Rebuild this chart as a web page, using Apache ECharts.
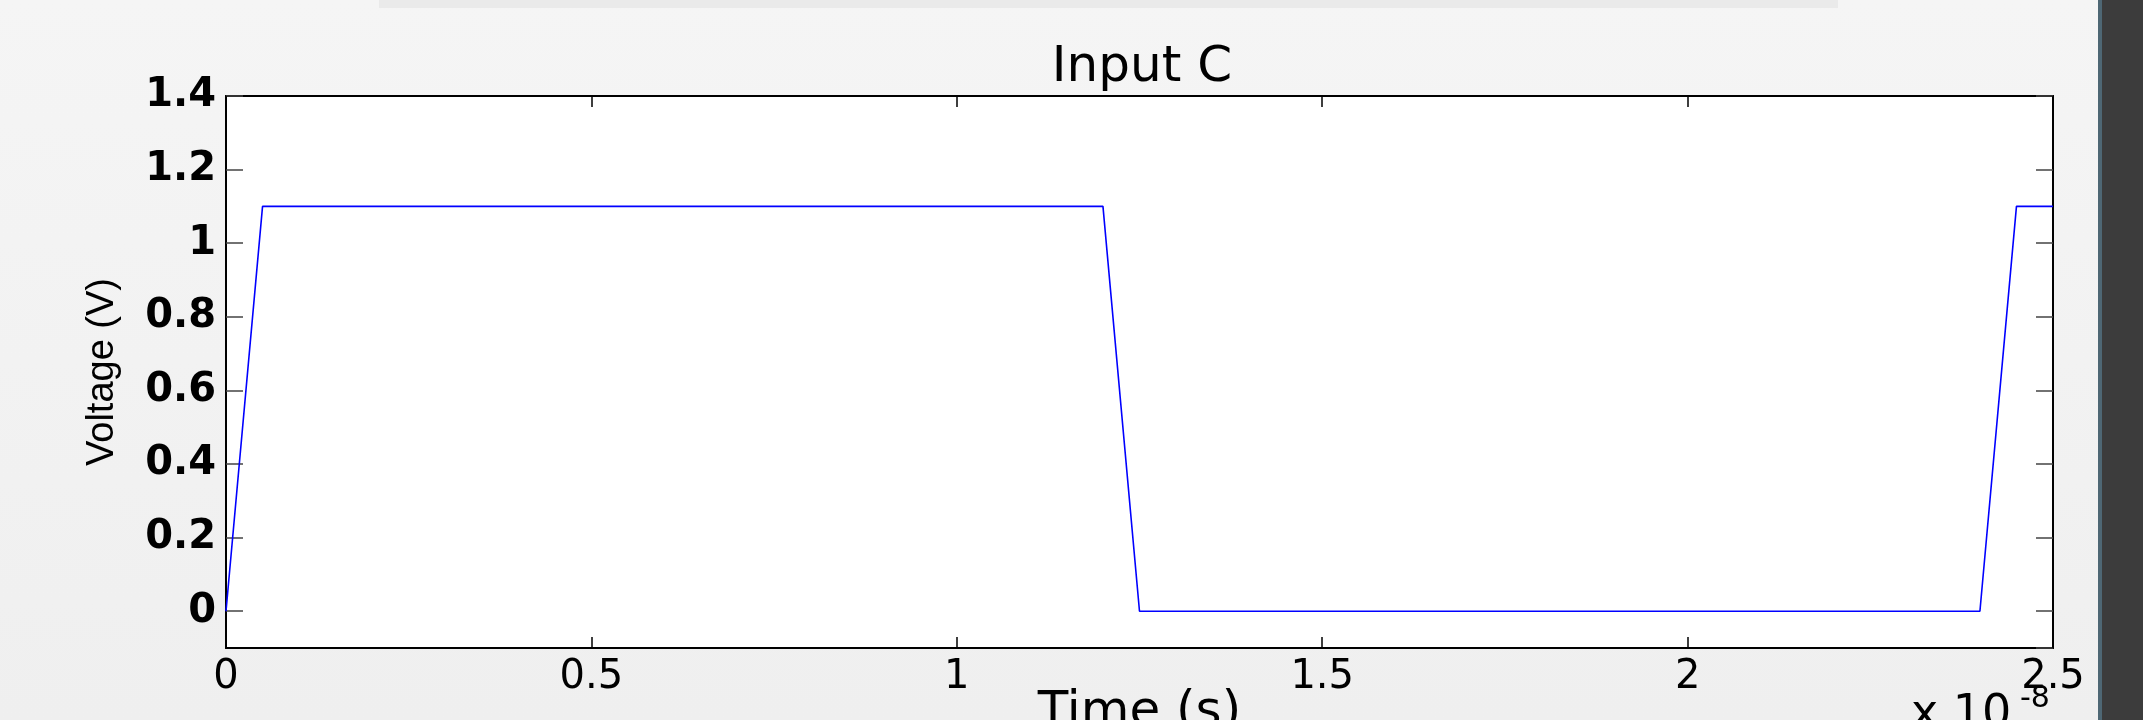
<!DOCTYPE html>
<html>
<head>
<meta charset="utf-8">
<script src="https://cdn.jsdelivr.net/npm/echarts@6/dist/echarts.min.js"></script>
<style>
  html, body { margin: 0; padding: 0; }
  #chart { width: 2143px; height: 720px; }
</style>
</head>
<body>
<div id="chart"></div>
<script>
// time in units of 1e-8 s, voltage in V (corner points of the waveform)
var timeE8 = [0, 0.05, 1.2, 1.25, 2.4, 2.45, 2.5]
var voltage = [0, 1.1, 1.1, 0, 0, 1.1, 1.1]

var titleText = 'Input C'
var xName = 'Time (s)'
var yName = 'Voltage (V)'

var points = timeE8.map(function (t, i) { return [t, voltage[i]] })

var chart = echarts.init(document.getElementById('chart'))

var tickX = { show: true, inside: true, length: 11, lineStyle: { color: '#000', width: 1.5 } }
var tickY = { show: true, inside: true, length: 17, lineStyle: { color: '#444', width: 1.5 } }
var axLine = { show: true, onZero: false, lineStyle: { color: '#000', width: 2 } }

chart.setOption({
    animation: false,
    backgroundColor: {
        type: 'linear', x: 0, y: 0, x2: 0, y2: 1,
        colorStops: [{ offset: 0, color: '#f5f5f5' }, { offset: 1, color: '#efefef' }]
    },
    title: {
        text: titleText,
        left: 1137,
        top: 38,
        textAlign: 'center',
        textStyle: { fontFamily: 'DejaVu Sans', fontSize: 50, fontWeight: 'normal', color: '#000' }
    },
    grid: {
        left: 226, right: 90, top: 96, bottom: 72,
        outerBoundsMode: 'none', containLabel: false,
        show: true, backgroundColor: '#fff', borderColor: '#000', borderWidth: 1.5
    },
    xAxis: [
        {
            type: 'value', min: 0, max: 2.5, interval: 0.5,
            name: xName, nameLocation: 'middle', nameGap: 40, nameMoveOverlap: false,
            nameTextStyle: { fontFamily: 'DejaVu Sans', fontSize: 50, color: '#000', verticalAlign: 'top' },
            axisLine: axLine,
            axisTick: tickX,
            splitLine: { show: false },
            axisLabel: { margin: 10, fontFamily: 'DejaVu Sans', fontSize: 40, color: '#000' }
        },
        {
            type: 'value', min: 0, max: 2.5, interval: 0.5, position: 'top',
            axisLine: axLine,
            axisTick: tickX,
            splitLine: { show: false },
            axisLabel: { show: false }
        }
    ],
    yAxis: [
        {
            type: 'value', min: -0.1, max: 1.4, splitNumber: 7,
            name: yName, nameLocation: 'middle', nameGap: 104, nameRotate: 90, nameMoveOverlap: false,
            nameTextStyle: { fontFamily: 'Liberation Sans', fontSize: 38, color: '#000' },
            axisLine: axLine,
            axisTick: tickY,
            splitLine: { show: false },
            axisLabel: {
                margin: 10, showMinLabel: false,
                fontFamily: 'DejaVu Sans', fontWeight: 'bold', fontSize: 40, color: '#000'
            }
        },
        {
            type: 'value', min: -0.1, max: 1.4, splitNumber: 7, position: 'right',
            axisLine: axLine,
            axisTick: tickY,
            splitLine: { show: false },
            axisLabel: { show: false }
        }
    ],
    series: [
        {
            type: 'line',
            data: points,
            xAxisIndex: 0,
            yAxisIndex: 0,
            symbol: 'none',
            lineStyle: { color: '#0000ff', width: 1.6 }
        }
    ],
    graphic: [
        { type: 'rect', shape: { x: 379, y: 0, width: 1459, height: 8 }, style: { fill: '#eaeaea' } },
        { type: 'rect', shape: { x: 2098, y: 0, width: 45, height: 720 }, style: { fill: '#3c3c3c' } },
        { type: 'rect', shape: { x: 2098, y: 0, width: 4, height: 720 }, style: { fill: '#4e6774' } },
        {
            type: 'text', left: 1911, top: 692,
            style: { text: 'x 10', fontFamily: 'DejaVu Sans', fontSize: 46, fill: '#000' }
        },
        {
            type: 'text', left: 2020, top: 684,
            style: { text: '-8', fontFamily: 'DejaVu Sans', fontSize: 30, fill: '#000' }
        }
    ]
})
</script>
</body>
</html>
